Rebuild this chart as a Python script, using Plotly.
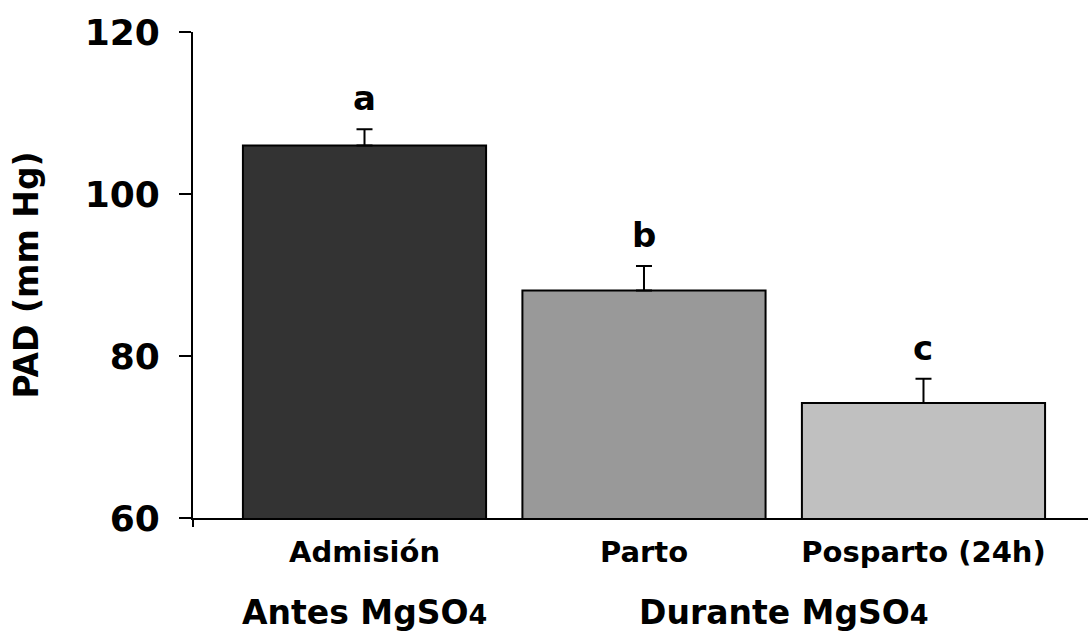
import plotly.graph_objects as go

categories = ["Admisión", "Parto", "Posparto (24h)"]
values = [106.0, 88.1, 74.2]
errors = [2.0, 3.0, 3.0]
letters = ["a", "b", "c"]
colors = ["#333333", "#999999", "#c0c0c0"]
groups = ["Antes MgSO<span style='font-size:27px'>4</span>",
          "Durante MgSO<span style='font-size:27px'>4</span>"]
group_pos = [0, 1.5]
y_ticks = [60, 80, 100, 120]

FONT = "DejaVu Sans"
xs = list(range(len(categories)))

fig = go.Figure()
fig.add_trace(go.Bar(
    x=xs, y=values, width=0.87,
    marker=dict(color=colors, line=dict(color="black", width=2)),
    error_y=dict(type="data", array=errors, arrayminus=[0] * len(errors),
                 symmetric=False, color="black", thickness=2, width=8),
    showlegend=False,
))

annotations = []
for x, v, e, t in zip(xs, values, errors, letters):
    annotations.append(dict(x=x, y=v + e, xref="x", yref="y", text=f"<b>{t}</b>",
                            showarrow=False, yanchor="bottom", yshift=9,
                            font=dict(family=FONT, size=34, color="black")))
for gx, g in zip(group_pos, groups):
    annotations.append(dict(x=gx, y=-0.195, xref="x", yref="paper", text=f"<b>{g}</b>",
                            showarrow=False, yanchor="middle",
                            font=dict(family=FONT, size=33, color="black")))

fig.update_layout(
    width=1088, height=634,
    margin=dict(l=193, r=0, t=32, b=116),
    paper_bgcolor="white", plot_bgcolor="white",
    bargap=0.13,
    annotations=annotations,
    shapes=[dict(type="line", xref="paper", yref="paper", x0=0, x1=0, y0=0, y1=-0.0185,
                 line=dict(color="black", width=2))],
    xaxis=dict(range=[-0.6136, 2.5886], tickvals=xs,
               ticktext=[f"<b>{c}</b>" for c in categories],
               showline=True, linecolor="black", linewidth=2, ticks="",
               showgrid=False, zeroline=False, ticklabelstandoff=7,
               tickfont=dict(family=FONT, size=29, color="black")),
    yaxis=dict(range=[60, 120], tickvals=y_ticks,
               ticktext=[f"<b>{t}</b>" for t in y_ticks],
               showline=True, linecolor="black", linewidth=2,
               ticks="outside", ticklen=12, tickwidth=2, tickcolor="black",
               showgrid=False, zeroline=False, ticklabelstandoff=12,
               tickfont=dict(family=FONT, size=36, color="black"),
               title=dict(text="<b>PAD (mm Hg)</b>", standoff=36,
                          font=dict(family=FONT, size=33, color="black"))),
)

fig.write_html("out.html")
